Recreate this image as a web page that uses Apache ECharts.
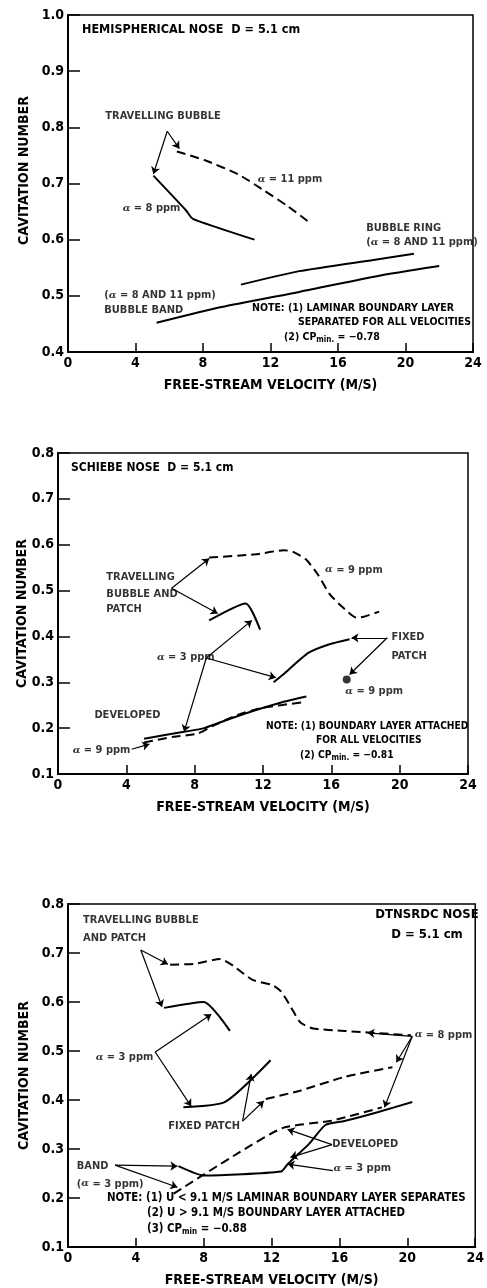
<!DOCTYPE html>
<html>
<head>
<meta charset="utf-8">
<script src="https://cdn.jsdelivr.net/npm/echarts@6/dist/echarts.min.js"></script>
<style>
html,body{margin:0;padding:0;background:#fff;}
#chart{width:487px;height:1288px;}
</style>
</head>
<body>
<div id="chart"></div>
<script>
// ---------- axes ----------
const X_TICKS = [0, 4, 8, 12, 16, 20, 24];
const Y1_RANGE = [0.4, 1.0];
const Y2_RANGE = [0.1, 0.8];
const Y3_RANGE = [0.1, 0.8];

// ---------- panel 1 : hemispherical nose ----------
const P1_TB8_X  = [5.06, 7.0, 7.4, 11.05];
const P1_TB8_Y  = [0.714, 0.652, 0.637, 0.600];
const P1_TB11_X = [6.45, 8.15, 10.1, 11.6, 13.0, 14.3];
const P1_TB11_Y = [0.757, 0.741, 0.716, 0.688, 0.660, 0.631];
const P1_RING_X = [10.25, 13.7, 18.1, 20.5];
const P1_RING_Y = [0.520, 0.544, 0.564, 0.575];
const P1_BAND_X = [5.25, 9.1, 13.7, 18.3, 22.0];
const P1_BAND_Y = [0.452, 0.480, 0.507, 0.535, 0.553];

const P1_LABEL_TEXT  = ['TRAVELLING BUBBLE', 'α = 8 ppm', 'α = 11 ppm', 'BUBBLE RING', '(α = 8 AND 11 ppm)', '(α = 8 AND 11 ppm)', 'BUBBLE BAND'];
const P1_LABEL_X     = [2.24, 3.27, 11.27, 17.7, 17.7, 2.18, 2.18];
const P1_LABEL_Y     = [0.819, 0.655, 0.707, 0.620, 0.594, 0.500, 0.474];
const P1_ARROW_FROM_X = [5.88, 5.88];
const P1_ARROW_FROM_Y = [0.793, 0.793];
const P1_ARROW_TO_X   = [5.06, 6.6];
const P1_ARROW_TO_Y   = [0.717, 0.762];

// ---------- panel 2 : Schiebe nose ----------
const P2_TB9_X  = [8.85, 11.55, 13.24, 13.8, 14.54, 15.21, 15.89, 16.62, 17.46, 17.9, 18.8];
const P2_TB9_Y  = [0.572, 0.579, 0.588, 0.584, 0.567, 0.535, 0.493, 0.465, 0.441, 0.443, 0.454];
const P2_TB3_X  = [8.85, 10.99, 11.83];
const P2_TB3_Y  = [0.435, 0.472, 0.415];
const P2_FP3_X  = [12.62, 13.18, 14.65, 15.89, 17.07];
const P2_FP3_Y  = [0.300, 0.317, 0.364, 0.383, 0.394];
const P2_FP9_X  = [16.9];
const P2_FP9_Y  = [0.306];
const P2_DEV3_X = [5.04, 7.38, 8.56, 10.03, 11.55, 13.07, 14.54];
const P2_DEV3_Y = [0.177, 0.192, 0.200, 0.220, 0.239, 0.256, 0.269];
const P2_DEV9_X = [5.04, 6.75, 8.17, 9.13, 10.6, 11.94, 14.25];
const P2_DEV9_Y = [0.169, 0.181, 0.188, 0.206, 0.230, 0.244, 0.256];

const P2_LABEL_TEXT = ['TRAVELLING', 'BUBBLE AND', 'PATCH', 'α = 9 ppm', 'α = 3 ppm', 'FIXED', 'PATCH', 'α = 9 ppm', 'DEVELOPED', 'α = 9 ppm'];
const P2_LABEL_X    = [2.86, 2.86, 2.86, 15.66, 5.82, 19.55, 19.55, 16.85, 2.16, 0.89];
const P2_LABEL_Y    = [0.528, 0.491, 0.459, 0.544, 0.353, 0.397, 0.356, 0.280, 0.228, 0.150];
const P2_ARROW_FROM_X = [6.65, 6.65, 8.68, 8.68, 8.68, 19.27, 19.27, 4.31];
const P2_ARROW_FROM_Y = [0.505, 0.505, 0.353, 0.353, 0.353, 0.397, 0.397, 0.154];
const P2_ARROW_TO_X   = [8.85, 9.35, 11.35, 12.75, 7.38, 17.18, 17.07, 5.35];
const P2_ARROW_TO_Y   = [0.570, 0.450, 0.435, 0.310, 0.192, 0.397, 0.317, 0.165];

// ---------- panel 3 : DTNSRDC nose ----------
const P3_TB8_X  = [6.02, 7.45, 8.97, 9.73, 10.88, 12.02, 12.57, 13.13, 13.7, 14.44, 16.29, 20.21];
const P3_TB8_Y  = [0.676, 0.678, 0.688, 0.674, 0.645, 0.635, 0.621, 0.590, 0.558, 0.546, 0.541, 0.532];
const P3_TB3_X  = [5.66, 8.0, 9.54];
const P3_TB3_Y  = [0.588, 0.600, 0.541];
const P3_FP3_X  = [6.8, 9.26, 11.94];
const P3_FP3_Y  = [0.385, 0.396, 0.481];
const P3_FP8_X  = [11.66, 13.67, 16.29, 19.12];
const P3_FP8_Y  = [0.402, 0.419, 0.447, 0.467];
const P3_DEV8_X = [6.23, 10.0, 12.67, 15.56, 18.5];
const P3_DEV8_Y = [0.209, 0.291, 0.343, 0.358, 0.385];
const P3_DEV3_X = [6.51, 8.0, 12.56, 12.94, 14.22, 15.17, 16.29, 18.24, 20.29];
const P3_DEV3_Y = [0.265, 0.246, 0.254, 0.269, 0.311, 0.349, 0.357, 0.375, 0.396];

const P3_LABEL_TEXT = ['TRAVELLING BUBBLE', 'AND PATCH', 'α = 3 ppm', 'α = 8 ppm', 'FIXED PATCH', 'DEVELOPED', 'α = 3 ppm', 'BAND', '(α = 3 ppm)'];
const P3_LABEL_X    = [0.92, 0.92, 1.66, 20.46, 5.94, 15.61, 15.67, 0.55, 0.55];
const P3_LABEL_Y    = [0.766, 0.730, 0.486, 0.532, 0.345, 0.309, 0.259, 0.265, 0.228];
const P3_ARROW_FROM_X = [4.29, 4.29, 5.14, 5.14, 20.29, 20.29, 20.29, 10.29, 10.29, 15.56, 15.56, 15.61, 2.77, 2.77];
const P3_ARROW_FROM_Y = [0.706, 0.706, 0.498, 0.498, 0.530, 0.530, 0.530, 0.357, 0.357, 0.309, 0.309, 0.256, 0.267, 0.267];
const P3_ARROW_TO_X   = [5.89, 5.54, 8.45, 7.26, 17.65, 19.35, 18.65, 10.8, 11.54, 12.94, 13.11, 12.94, 6.45, 6.45];
const P3_ARROW_TO_Y   = [0.677, 0.590, 0.575, 0.387, 0.537, 0.477, 0.385, 0.453, 0.398, 0.340, 0.283, 0.269, 0.265, 0.222];

// ---------- build ----------
const FF = "'Liberation Sans Narrow','DejaVu Sans Condensed','Arial Narrow',sans-serif";
const ANN = 11;
const INK = '#000';
const zip = (xs, ys) => xs.map((x, i) => [x, ys[i]]);

function curve(xs, ys, idx, dashed) {
  return {
    type: 'line', xAxisIndex: idx, yAxisIndex: idx, data: zip(xs, ys),
    showSymbol: false, symbol: 'none', silent: true, smooth: 0.2,
    lineStyle: { color: INK, width: 2, type: dashed ? [9, 5] : 'solid' }
  };
}
function labels(texts, xs, ys, idx) {
  return {
    type: 'scatter', xAxisIndex: idx, yAxisIndex: idx, silent: true,
    symbolSize: 1, itemStyle: { color: 'rgba(0,0,0,0)' },
    data: texts.map((t, i) => ({ value: [xs[i], ys[i]], name: t })),
    label: {
      show: true, position: [0, 0], align: 'left', verticalAlign: 'middle',
      formatter: p => p.name.replace('α', '{a|α}'),
      fontFamily: FF, fontWeight: 'bold', fontSize: ANN, color: INK,
      rich: { a: { fontFamily: 'DejaVu Serif, serif', fontStyle: 'italic', fontSize: 10, color: INK } }
    }
  };
}
function arrows(fx, fy, tx, ty, idx) {
  return {
    type: 'lines', coordinateSystem: 'cartesian2d', xAxisIndex: idx, yAxisIndex: idx, silent: true,
    symbol: ['none', 'arrow'], symbolSize: 7,
    lineStyle: { color: INK, width: 1.2, opacity: 1, curveness: 0 },
    data: fx.map((x, i) => ({ coords: [[x, fy[i]], [tx[i], ty[i]]] }))
  };
}
function xAxis(idx) {
  return {
    type: 'value', gridIndex: idx, min: X_TICKS[0], max: X_TICKS[X_TICKS.length - 1], interval: X_TICKS[1] - X_TICKS[0],
    name: 'FREE-STREAM VELOCITY (M/S)', nameLocation: 'middle', nameGap: 26, nameMoveOverlap: false,
    nameTextStyle: { fontFamily: FF, fontWeight: 'bold', fontSize: 14, color: INK },
    axisLine: { lineStyle: { color: INK, width: 2 } },
    axisTick: { inside: true, length: 9, lineStyle: { color: INK, width: 1.5 } },
    axisLabel: { fontFamily: FF, fontWeight: 'bold', fontSize: 14, color: INK, margin: 4 },
    splitLine: { show: false }
  };
}
function yAxis(idx, range, gap, pad) {
  return {
    type: 'value', gridIndex: idx, min: range[0], max: range[1], interval: 0.1,
    name: 'CAVITATION NUMBER', nameLocation: 'middle', nameGap: gap, nameMoveOverlap: false,
    nameTextStyle: { fontFamily: FF, fontWeight: 'bold', fontSize: 14, color: INK, padding: pad || 0 },
    axisLine: { lineStyle: { color: INK, width: 2 } },
    axisTick: { inside: true, length: 12, lineStyle: { color: INK, width: 1.5 } },
    axisLabel: { fontFamily: FF, fontWeight: 'bold', fontSize: 14, color: INK, margin: 4,
      formatter: v => v.toFixed(1) },
    splitLine: { show: false }
  };
}
function txt(x, y, text, size, align, rich) {
  return {
    type: 'text', x: x, y: y, silent: true,
    style: {
      text: text, fill: INK, font: 'bold ' + size + 'px ' + FF,
      align: align || 'left', verticalAlign: 'middle',
      textAlign: align || 'left', textVerticalAlign: 'middle',
      rich: rich || undefined
    }
  };
}
function richSub(size) {
  return {
    n: { fontFamily: FF, fontWeight: 'bold', fontSize: size, color: INK },
    s: { fontFamily: FF, fontWeight: 'bold', fontSize: 8, color: INK, padding: [6, 0, 0, 0] }
  };
}

const chart = echarts.init(document.getElementById('chart'), null, { renderer: 'canvas' });
chart.setOption({
  animation: false,
  backgroundColor: '#fff',
  grid: [
    { left: 68, top: 15, width: 405, height: 337, show: true, borderColor: INK, borderWidth: 1.5, backgroundColor: 'transparent' },
    { left: 58, top: 453, width: 410, height: 321, show: true, borderColor: INK, borderWidth: 1.5, backgroundColor: 'transparent' },
    { left: 68, top: 904, width: 415, height: 344, show: true, borderColor: INK, borderWidth: 1.5, backgroundColor: 'transparent' }
  ],
  xAxis: [xAxis(0), xAxis(1), xAxis(2)],
  yAxis: [yAxis(0, Y1_RANGE, 37, [0, 0, 0, 26]), yAxis(1, Y2_RANGE, 29), yAxis(2, Y3_RANGE, 37)],
  series: [
    curve(P1_TB8_X, P1_TB8_Y, 0, false),
    curve(P1_TB11_X, P1_TB11_Y, 0, true),
    curve(P1_RING_X, P1_RING_Y, 0, false),
    curve(P1_BAND_X, P1_BAND_Y, 0, false),
    labels(P1_LABEL_TEXT, P1_LABEL_X, P1_LABEL_Y, 0),
    arrows(P1_ARROW_FROM_X, P1_ARROW_FROM_Y, P1_ARROW_TO_X, P1_ARROW_TO_Y, 0),

    curve(P2_TB9_X, P2_TB9_Y, 1, true),
    curve(P2_TB3_X, P2_TB3_Y, 1, false),
    curve(P2_FP3_X, P2_FP3_Y, 1, false),
    curve(P2_DEV3_X, P2_DEV3_Y, 1, false),
    curve(P2_DEV9_X, P2_DEV9_Y, 1, true),
    { type: 'scatter', xAxisIndex: 1, yAxisIndex: 1, silent: true, symbolSize: 8,
      itemStyle: { color: INK }, data: zip(P2_FP9_X, P2_FP9_Y) },
    labels(P2_LABEL_TEXT, P2_LABEL_X, P2_LABEL_Y, 1),
    arrows(P2_ARROW_FROM_X, P2_ARROW_FROM_Y, P2_ARROW_TO_X, P2_ARROW_TO_Y, 1),

    curve(P3_TB8_X, P3_TB8_Y, 2, true),
    curve(P3_TB3_X, P3_TB3_Y, 2, false),
    curve(P3_FP3_X, P3_FP3_Y, 2, false),
    curve(P3_FP8_X, P3_FP8_Y, 2, true),
    curve(P3_DEV8_X, P3_DEV8_Y, 2, true),
    curve(P3_DEV3_X, P3_DEV3_Y, 2, false),
    labels(P3_LABEL_TEXT, P3_LABEL_X, P3_LABEL_Y, 2),
    arrows(P3_ARROW_FROM_X, P3_ARROW_FROM_Y, P3_ARROW_TO_X, P3_ARROW_TO_Y, 2)
  ],
  graphic: [
    txt(82, 30, 'HEMISPHERICAL NOSE  D = 5.1 cm', 12.5),
    txt(252, 308, 'NOTE: (1) LAMINAR BOUNDARY LAYER', 10.5),
    txt(298, 322, 'SEPARATED FOR ALL VELOCITIES', 10.5),
    txt(284, 337, '{n|(2) CP}{s|min.}{n| = −0.78}', 10.5, 'left', richSub(10.5)),

    txt(71, 468, 'SCHIEBE NOSE  D = 5.1 cm', 12),
    txt(266, 726, 'NOTE: (1) BOUNDARY LAYER ATTACHED', 10.2),
    txt(316, 740, 'FOR ALL VELOCITIES', 10.2),
    txt(300, 755, '{n|(2) CP}{s|min.}{n| = −0.81}', 10.2, 'left', richSub(10.2)),

    txt(427, 915, 'DTNSRDC NOSE', 13, 'center'),
    txt(427, 935, 'D = 5.1 cm', 13, 'center'),
    txt(107, 1198, 'NOTE: (1) U < 9.1 M/S LAMINAR BOUNDARY LAYER SEPARATES', 11.4),
    txt(147, 1213, '(2) U > 9.1 M/S BOUNDARY LAYER ATTACHED', 11.4),
    txt(147, 1229, '{n|(3) CP}{s|min}{n| = −0.88}', 11.4, 'left', richSub(11.4))
  ]
});
</script>
</body>
</html>
